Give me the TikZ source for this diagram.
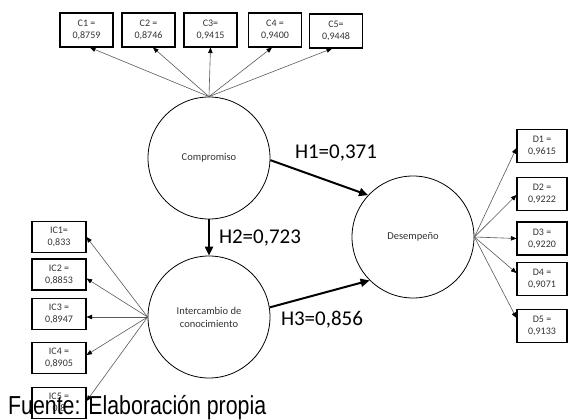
\documentclass[tikz,border=0pt]{standalone}
\usepackage{fontspec}
\setmainfont{Carlito}
\newfontfamily\narrowfont[FakeStretch=0.82]{Liberation Sans}
\usetikzlibrary{arrows.meta,calc}
\tikzset{
  latent/.style={circle,draw=black,line width=0.8pt,minimum size=122pt,inner sep=0pt,align=center,
    font=\fontsize{10.5}{13}\selectfont,text=black!80},
  ibox/.style={rectangle,draw=black,line width=1.1pt,inner sep=0pt,align=center,
    font=\fontsize{10}{12}\selectfont,text=black!80},
  cbox/.style={ibox,minimum width=53pt,minimum height=34pt},
  lbox/.style={ibox,minimum width=54pt,minimum height=31pt},
  rbox/.style={ibox,minimum width=50pt,minimum height=33pt},
  thin/.style={draw=black!65,line width=0.6pt,-{Triangle[length=5.5pt,width=4.5pt,color=black]}},
  thick/.style={draw=black,line width=2pt,-{Triangle[length=9pt,width=8pt]}},
  hlabel/.style={font=\fontsize{21}{24}\selectfont,text=black,inner sep=0pt},
}
\begin{document}
\begin{tikzpicture}[x=1pt,y=-1pt]
\useasboundingbox (0,0) rectangle (568,420);
% latent variables
\node[latent] (comp) at (209,158) {Compromiso};
\node[latent] (inter) at (209,317) {Intercambio de\\conocimiento};
\node[latent] (des) at (413,237) {Desempeño};
% top indicators
\node[cbox] (C1) at (86.5,30) {C1 =\\0,8759};
\node[cbox] (C2) at (148.5,30) {C2 =\\0,8746};
\node[cbox] (C3) at (210.5,30) {C3=\\0,9415};
\node[cbox] (C4) at (275,30) {C4 =\\0,9400};
\node[cbox] (C5) at (336,31) {C5=\\0,9448};
% left indicators
\node[lbox] (IC1) at (59,237) {IC1=\\0,833};
\node[lbox] (IC2) at (59,274.5) {IC2 =\\0,8853};
\node[lbox] (IC3) at (59,314) {IC3 =\\0,8947};
\node[lbox] (IC4) at (59,358) {IC4 =\\0,8905};
\node[lbox] (IC5) at (59,403) {IC5 =\\0,8};
% right indicators
\node[rbox] (D1) at (542,146) {D1 =\\0,9615};
\node[rbox] (D2) at (542,194) {D2 =\\0,9222};
\node[rbox] (D3) at (542,238.5) {D3 =\\0,9220};
\node[rbox] (D4) at (542,279) {D4 =\\0,9071};
\node[rbox] (D5) at (542,326) {D5 =\\0,9133};
% loadings
\draw[thin] (comp.north) -- ([xshift=3.5pt]C1.south);
\draw[thin] (comp.north) -- ([xshift=4.5pt]C2.south);
\draw[thin] (comp.north) -- (C3.south);
\draw[thin] (comp.north) -- ([xshift=-3pt]C4.south);
\draw[thin] (comp.north) -- ([xshift=-4pt]C5.south);
\draw[thin] (inter.west) -- (IC1.east);
\draw[thin] (inter.west) -- ([yshift=-4pt]IC2.east);
\draw[thin] (inter.west) -- ([yshift=-3pt]IC3.east);
\draw[thin] (inter.west) -- ([yshift=3pt]IC4.east);
\draw[thin] (inter.west) -- ([yshift=2pt]IC5.east);
\draw[thin] (des.east) -- ([yshift=-2pt]D1.west);
\draw[thin] (des.east) -- ([yshift=-1pt]D2.west);
\draw[thin] (des.east) -- (D3.west);
\draw[thin] (des.east) -- ([yshift=6pt]D4.west);
\draw[thin] (des.east) -- ([yshift=8pt]D5.west);
% structural paths
\draw[thick] (comp.-2) -- (des.137);
\draw[thick] (comp.south) -- (inter.north);
\draw[thick] (inter.9) -- (des.225);
\node[hlabel] (h1) at (336,153) {H1=0,371};
\node[hlabel] (h2) at (260,238) {H2=0,723};
\node[hlabel] (h3) at (322,320) {H3=0,856};
% source
\node[anchor=base west,inner sep=0pt,font=\narrowfont\fontsize{26}{30}\selectfont] (src) at (8,414) {Fuente: Elaboración propia};
\end{tikzpicture}
\end{document}
